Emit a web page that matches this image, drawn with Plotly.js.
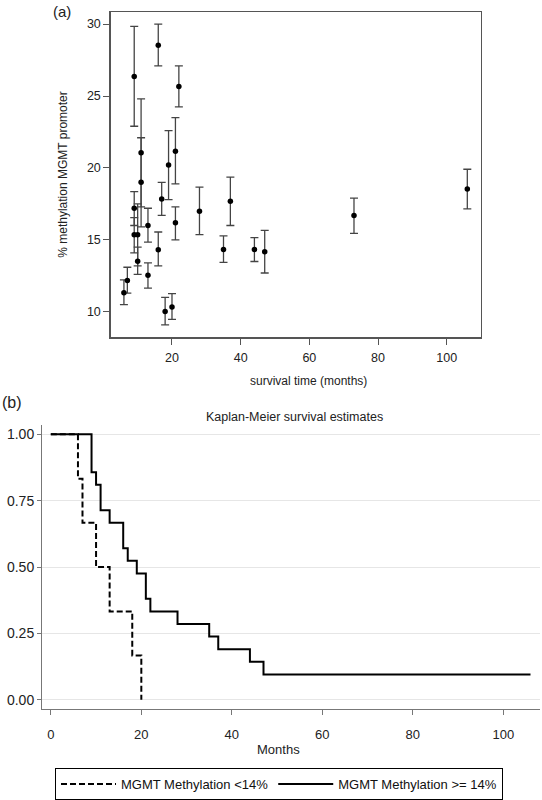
<!DOCTYPE html>
<html>
<head>
<meta charset="utf-8">
<script src="https://cdn.plot.ly/plotly-3.0.1.min.js"></script>
<style>html,body{margin:0;padding:0;background:#fff;}#chart{width:542px;height:800px;}</style>
</head>
<body>
<div id="chart"></div>
<script>
// Panel (a): survival time vs % methylation with error bars
const survMonths = [6, 7, 9, 9, 9, 10, 10, 11, 11, 13, 13, 16, 16, 17, 18, 19, 20, 21, 21, 22, 28, 35, 37, 44, 47, 73, 106];
const methPct    = [11.33, 12.18, 26.36, 17.2, 15.35, 15.35, 13.51, 21.06, 19.0, 16.0, 12.55, 28.53, 14.31, 17.85, 10.02, 20.2, 10.34, 21.17, 16.19, 25.67, 17.0, 14.34, 17.69, 14.34, 14.18, 16.7, 18.53];
const methHigh   = [12.22, 13.1, 29.84, 18.35, 16.55, 17.5, 14.5, 24.8, 22.1, 17.2, 13.4, 30.0, 15.55, 19.0, 11.0, 22.6, 11.26, 23.5, 17.3, 27.1, 18.67, 15.28, 19.36, 15.16, 15.66, 17.9, 19.91];
const methLow    = [10.5, 11.3, 22.9, 16.0, 14.1, 13.2, 12.6, 17.3, 15.9, 14.85, 11.65, 27.1, 13.19, 16.7, 9.1, 17.8, 9.47, 18.9, 15.0, 24.25, 15.37, 13.44, 16.0, 13.5, 12.7, 15.46, 17.16];

// Panel (b): Kaplan-Meier step data
const kmLowTimes  = [0, 6, 7, 10, 13, 18, 20];
const kmLowSurv   = [1, 0.833, 0.667, 0.5, 0.333, 0.167, 0];
const kmHighTimes = [0, 9, 10, 11, 13, 16, 17, 19, 21, 22, 28, 35, 37, 44, 47, 106];
const kmHighSurv  = [1, 0.857, 0.810, 0.714, 0.667, 0.571, 0.524, 0.476, 0.381, 0.333, 0.286, 0.238, 0.190, 0.143, 0.095, 0.095];

const legendLabels = ['MGMT Methylation <14%', 'MGMT Methylation >= 14%'];

const FONT = 'Liberation Sans, Arial, Helvetica, sans-serif';
const W = 542, H = 800;
const px = v => v / W;
const py = v => 1 - v / H;

const traces = [
  {
    x: survMonths, y: methPct, type: 'scatter', mode: 'markers',
    xaxis: 'x', yaxis: 'y', showlegend: false,
    marker: {color: '#000', size: 5.5},
    error_y: {
      type: 'data', symmetric: false,
      array: methHigh.map((h, i) => h - methPct[i]),
      arrayminus: methPct.map((v, i) => v - methLow[i]),
      color: '#444', thickness: 1.3, width: 4
    }
  },
  {
    x: kmLowTimes, y: kmLowSurv, type: 'scatter', mode: 'lines',
    xaxis: 'x2', yaxis: 'y2', name: legendLabels[0],
    line: {color: '#000', width: 2, dash: '6px,3px', shape: 'hv'}
  },
  {
    x: kmHighTimes, y: kmHighSurv, type: 'scatter', mode: 'lines',
    xaxis: 'x2', yaxis: 'y2', name: legendLabels[1],
    line: {color: '#000', width: 2, shape: 'hv'}
  }
];

const axisCommon = {
  showgrid: false, zeroline: false, ticks: 'outside',
  tickfont: {family: FONT, size: 12.5, color: '#222'}
};

function ann(text, x, y, size, extra) {
  return Object.assign({
    text: text, x: px(x), y: py(y), xref: 'paper', yref: 'paper',
    xanchor: 'center', yanchor: 'middle', showarrow: false,
    font: {family: FONT, size: size, color: '#222'}
  }, extra || {});
}

const layout = {
  width: W, height: H,
  margin: {l: 0, r: 0, t: 0, b: 0},
  paper_bgcolor: '#fff', plot_bgcolor: '#fff',
  font: {family: FONT, color: '#222'},
  xaxis: Object.assign({}, axisCommon, {
    domain: [px(110.7), px(480.7)], anchor: 'y',
    range: [2.15, 109.9], tick0: 20, dtick: 20,
    showline: true, mirror: true, linecolor: '#555', linewidth: 1.4,
    ticklen: 6, tickcolor: '#555', ticklabelstandoff: 2
  }),
  yaxis: Object.assign({}, axisCommon, {
    domain: [py(340.7), py(12.3)], anchor: 'x',
    range: [8.23, 30.83], tick0: 10, dtick: 5,
    showline: true, mirror: true, linecolor: '#555', linewidth: 1.4,
    ticklen: 6, tickcolor: '#555'
  }),
  xaxis2: Object.assign({}, axisCommon, {
    domain: [px(42.3), px(540)], anchor: 'y2',
    range: [-1.88, 108.1], tick0: 0, dtick: 20,
    showline: true, linecolor: '#777', linewidth: 1.3,
    ticklen: 5, tickcolor: '#777', ticklabelstandoff: 8,
    tickfont: {family: FONT, size: 13, color: '#222'}
  }),
  yaxis2: Object.assign({}, axisCommon, {
    domain: [py(716), py(429.3)], anchor: 'x2',
    range: [-0.034, 1.035], tickvals: [0, 0.25, 0.5, 0.75, 1], tickformat: '.2f',
    showline: true, linecolor: '#777', linewidth: 1.3,
    showgrid: true, gridcolor: '#e6e6e6', gridwidth: 1,
    ticklen: 4, tickcolor: '#777',
    tickfont: {family: FONT, size: 14, color: '#222'}
  }),
  showlegend: true,
  legend: {
    orientation: 'h', x: px(55), y: py(776), xanchor: 'left', yanchor: 'top',
    bordercolor: '#000', borderwidth: 1, bgcolor: '#fff', itemwidth: 55,
    font: {family: FONT, size: 13, color: '#111'}
  },
  annotations: [
    ann('(a)', 62, 12, 15),
    ann('% methylation MGMT promoter', 63, 176.5, 12, {textangle: -90}),
    ann('survival time (months)', 308, 385, 12),
    ann('(b)', 12, 407, 16),
    ann('Kaplan-Meier survival estimates', 294, 421, 12.5),
    ann('Months', 278, 757.5, 13)
  ]
};

Plotly.newPlot('chart', traces, layout, {staticPlot: true, displayModeBar: false});
</script>
</body>
</html>
